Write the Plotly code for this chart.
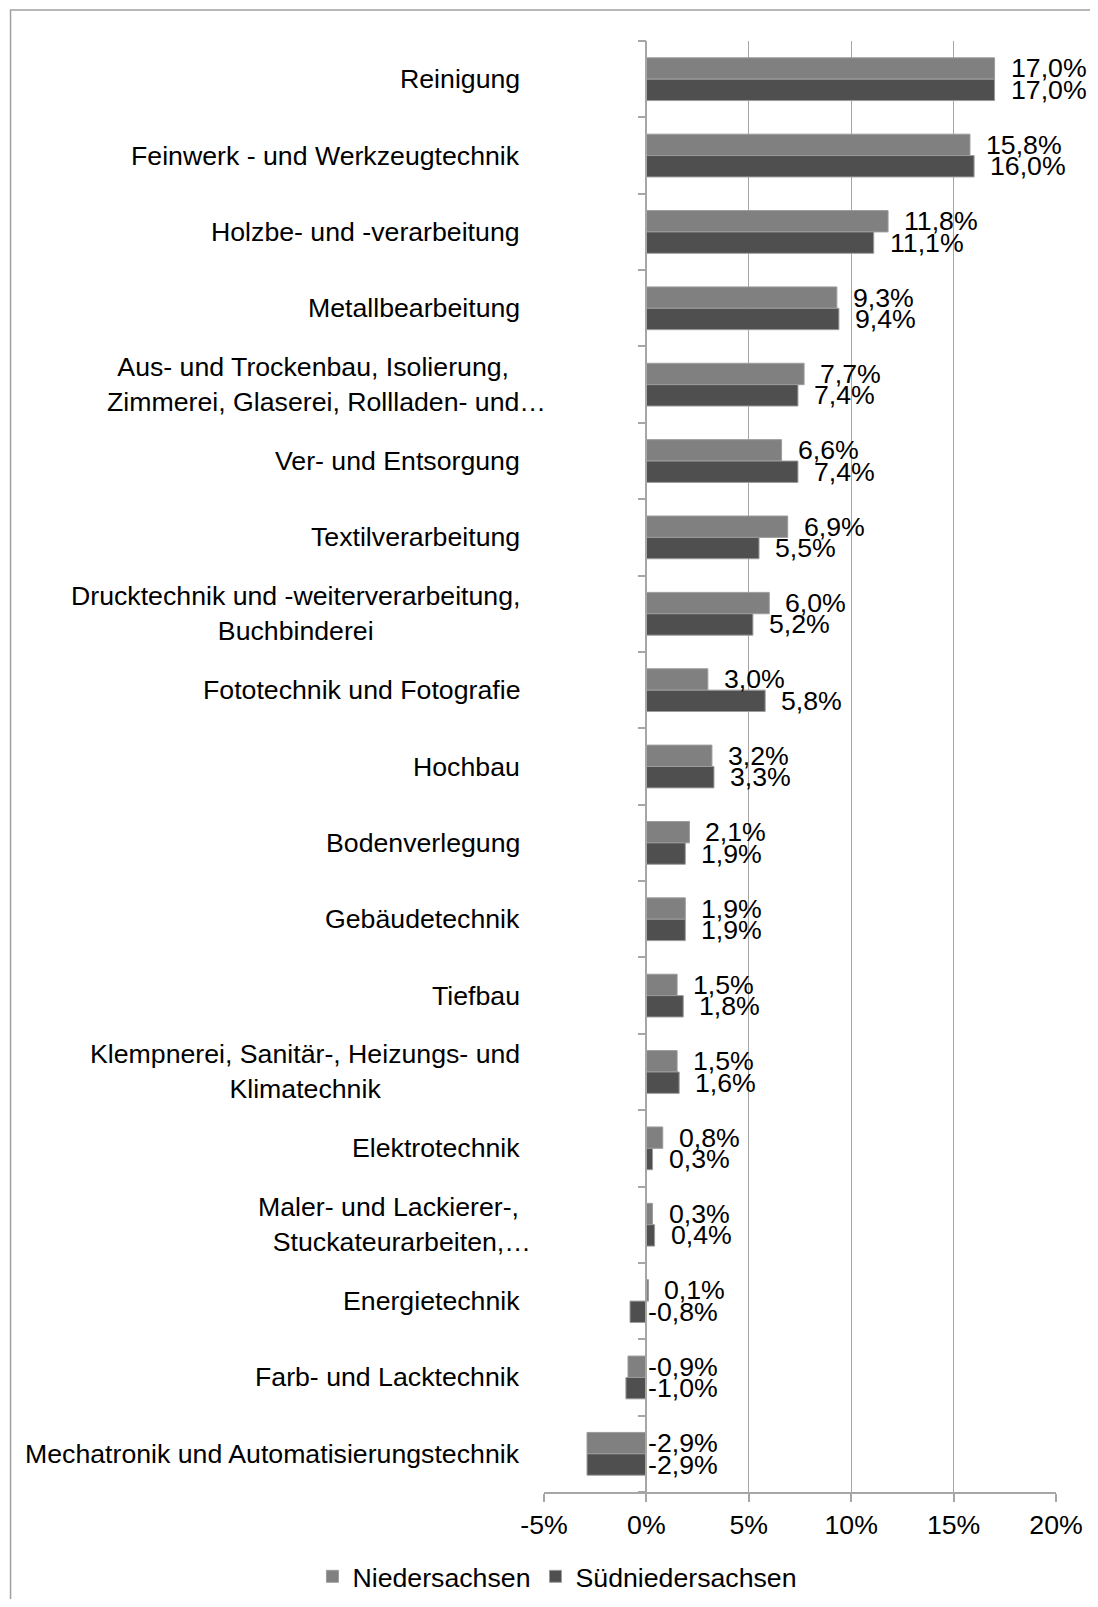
import plotly.graph_objects as go

categories = [
    "Reinigung",
    "Feinwerk - und Werkzeugtechnik",
    "Holzbe- und -verarbeitung",
    "Metallbearbeitung",
    "Aus- und Trockenbau, Isolierung,<br>Zimmerei, Glaserei, Rollladen- und…",
    "Ver- und Entsorgung",
    "Textilverarbeitung",
    "Drucktechnik und -weiterverarbeitung,<br>Buchbinderei",
    "Fototechnik und Fotografie",
    "Hochbau",
    "Bodenverlegung",
    "Gebäudetechnik",
    "Tiefbau",
    "Klempnerei, Sanitär-, Heizungs- und<br>Klimatechnik",
    "Elektrotechnik",
    "Maler- und Lackierer-,<br>Stuckateurarbeiten,…",
    "Energietechnik",
    "Farb- und Lacktechnik",
    "Mechatronik und Automatisierungstechnik",
]
niedersachsen = [17.0, 15.8, 11.8, 9.3, 7.7, 6.6, 6.9, 6.0, 3.0, 3.2, 2.1, 1.9, 1.5, 1.5, 0.8, 0.3, 0.1, -0.9, -2.9]
suedniedersachsen = [17.0, 16.0, 11.1, 9.4, 7.4, 7.4, 5.5, 5.2, 5.8, 3.3, 1.9, 1.9, 1.8, 1.6, 0.3, 0.4, -0.8, -1.0, -2.9]
series_names = ["Niedersachsen", "Südniedersachsen"]
x_tickvals = [-5, 0, 5, 10, 15, 20]
x_ticktext = ["-5%", "0%", "5%", "10%", "15%", "20%"]

FONT = "'Liberation Sans', Arial, sans-serif"
FS = 26.7
GRID = "#a6a6a6"
colors = ["#808080", "#4f4f4f"]

OFF = 8  # default body margin of the html page
W, H = 1098 - 2 * OFF, 1607 - 2 * OFF
plot_x0, plot_x1 = 543.5 - OFF, 1056.5 - OFF
plot_y0, plot_y1 = 41 - OFF, 1492.5 - OFF
L, R, T, B = plot_x0, W - plot_x1, plot_y0, H - plot_y1
pw = plot_x1 - plot_x0
ph = plot_y1 - plot_y0


def px_to_paper_x(px):
    return (px - OFF - plot_x0) / pw


def px_to_paper_y(py):
    return (plot_y1 - (py - OFF)) / ph


idx = list(range(len(categories)))
fig = go.Figure()
for name, vals, col in zip(series_names, [niedersachsen, suedniedersachsen], colors):
    fig.add_trace(go.Bar(
        y=idx, x=vals, orientation="h", name=name,
        marker=dict(color=col, line=dict(color="#9c9c9c", width=1)),
        hoverinfo="x+name",
    ))

bargap = 0.44
bw = (1 - bargap) / 2
annotations = []
for s, vals in enumerate([niedersachsen, suedniedersachsen]):
    off = -bw / 2 if s == 0 else bw / 2
    for i, v in zip(idx, vals):
        txt = f"{v:.1f}".replace(".", ",") + "%"
        annotations.append(dict(
            x=max(v, 0), y=i + off, xref="x", yref="y", text=txt,
            showarrow=False, xanchor="left", yanchor="middle",
            xshift=14 if v > 0 else 0,
            font=dict(family=FONT, size=FS, color="black"),
        ))

# category labels: lines centered, block right aligned; truncated labels
# keep their ellipsis overflowing to the right as in the original
for i, c in zip(idx, categories):
    truncated = c.endswith("…")
    text = c
    if truncated:
        first, rest = c.split("<br>", 1)
        text = first + "\u2003<br>" + rest
    annotations.append(dict(
        x=px_to_paper_x(521), y=i, xref="paper", yref="y", text=text,
        showarrow=False, xanchor="right", yanchor="middle", align="center",
        xshift=FS if truncated else 0,
        font=dict(family=FONT, size=FS, color="black"),
    ))

fig.update_layout(
    width=W, height=H,
    margin=dict(l=L, r=R, t=T, b=B, autoexpand=False),
    paper_bgcolor="white", plot_bgcolor="white",
    barmode="group", bargap=bargap, bargroupgap=0,
    font=dict(family=FONT, size=FS, color="black"),
    xaxis=dict(
        range=[-5, 20], tickvals=x_tickvals, ticktext=x_ticktext,
        showgrid=True, gridcolor=GRID, gridwidth=1,
        zeroline=False,
        showline=True, linecolor=GRID, linewidth=1.5,
        ticks="outside", ticklen=8, tickcolor=GRID, tickwidth=1.5,
        tickfont=dict(family=FONT, size=FS, color="black"),
        fixedrange=True,
    ),
    yaxis=dict(
        type="linear", range=[len(categories) - 0.5, -0.5],
        tickvals=[k - 0.5 for k in range(len(categories) + 1)],
        showticklabels=False, showgrid=False, zeroline=False,
        showline=True, linecolor=GRID, linewidth=1.5,
        ticks="outside", ticklen=8, tickcolor=GRID, tickwidth=1.5,
        anchor="free", position=0.2,
        fixedrange=True,
    ),
    legend=dict(
        orientation="h", x=px_to_paper_x(311.5), xanchor="left",
        y=px_to_paper_y(1577), yanchor="middle",
        font=dict(family=FONT, size=FS, color="black"),
        itemwidth=30, traceorder="normal",
    ),
    annotations=annotations,
    shapes=[dict(
        type="rect", xref="paper", yref="paper",
        x0=px_to_paper_x(9), x1=1.5, y0=-0.5, y1=px_to_paper_y(10),
        line=dict(color="#a0a0a0", width=1.5), fillcolor="rgba(0,0,0,0)",
        layer="below",
    )],
)

fig.write_html("out.html")
